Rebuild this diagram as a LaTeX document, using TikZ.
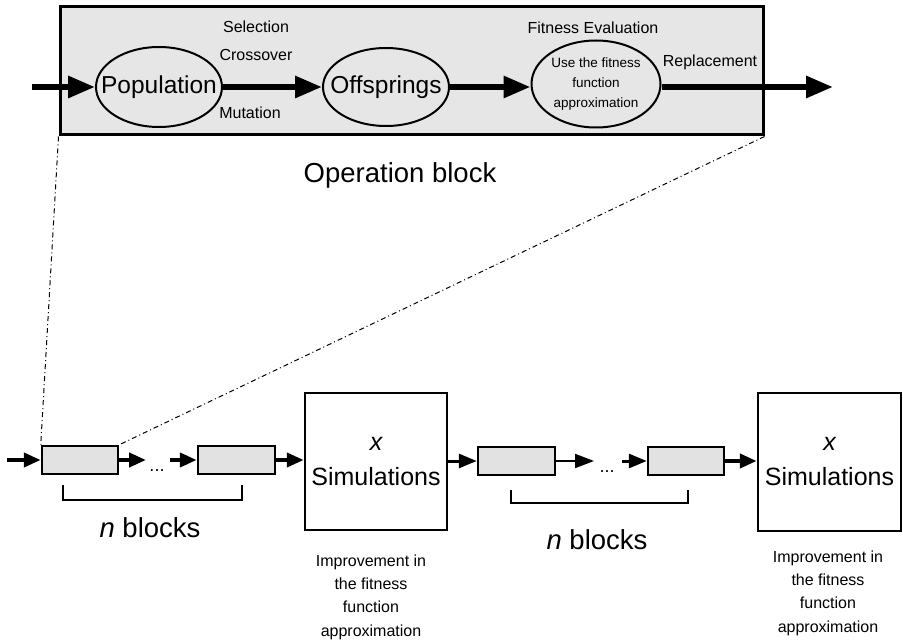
\documentclass[tikz,border=0pt]{standalone}
\usepackage{fontspec}
\setmainfont{Liberation Sans}
\usetikzlibrary{arrows.meta,shapes.geometric}
\definecolor{panelgray}{HTML}{E6E6E6}
\definecolor{blockgray}{HTML}{E2E2E2}
\newcommand{\fs}[2]{\fontsize{#1}{#2}\selectfont}

\begin{document}
\begin{tikzpicture}[x=1pt,y=-1pt,
  panel/.style={draw,line width=3pt,fill=panelgray,minimum width=703pt,minimum height=128pt,inner sep=0pt},
  stage/.style={draw,ellipse,line width=2pt,inner sep=0pt},
  stagetext/.style={label={[font=\fs{24.5}{29},inner sep=0pt]center:#1}},
  oplabel/.style={font=\fs{16}{19},inner sep=0pt},
  bigarrow/.style={line width=6pt,-{Triangle[length=27pt,width=21pt]}},
  opblock/.style={draw,line width=2.5pt,fill=blockgray,minimum width=76pt,minimum height=28pt,inner sep=0pt},
  simbox/.style={draw,line width=2.5pt,fill=white,inner sep=0pt,align=center,font=\fs{25}{35}},
  flow/.style={line width=4pt,-{Triangle[length=17pt,width=14pt]}},
  thinflow/.style={line width=2pt,-{Triangle[length=19pt,width=14pt]}},
  medflow/.style={line width=3pt,-{Triangle[length=18pt,width=14pt]}},
  zoomline/.style={line width=1pt,dash pattern=on 5pt off 3pt on 1pt off 3pt},
  bracket/.style={line width=2.5pt},
  note/.style={align=center,font=\fs{16}{23.3},inner sep=0pt},
  count/.style={font=\fs{27.5}{31},inner sep=0pt}]

\useasboundingbox (0,0) rectangle (903,644);

% ---- the operation block, enlarged ----
\node[panel] (panel) at (411.5,71) {};

\node[stage,minimum width=126pt,minimum height=80pt,stagetext=Population] (pop) at (159,87) {};
\node[stage,minimum width=126pt,minimum height=78pt,stagetext=Offsprings] (off) at (386,87) {};
\node[stage,minimum width=129pt,minimum height=87pt,align=center,font=\fs{13.5}{20}] (fit) at (596,84)
  {Use the fitness\\function\\approximation};

\coordinate (topin) at (32,87);
\coordinate (topout) at (833,87);
\draw[bigarrow] (topin) -- (pop.west);
\draw[bigarrow] (pop.east) -- (off.west);
\draw[bigarrow] (off.east) -- (off.east -| fit.west);
\draw[bigarrow] (fit.east |- topout) -- (topout);

\node[oplabel] (sel) at (256,27) {Selection};
\node[oplabel] (cro) at (256,55) {Crossover};
\node[oplabel] (mut) at (250,113) {Mutation};
\node[oplabel] (fev) at (593,28) {Fitness Evaluation};
\node[oplabel] (rep) at (710,62) {Replacement};

\node[font=\fs{27.5}{32},inner sep=0pt] (optitle) at (400,175) {Operation block};

% ---- chain of operation blocks and simulations ----
\node[opblock] (b1) at (80,460) {};
\node[opblock,minimum width=77pt] (b2) at (236.5,460) {};
\node[simbox,minimum width=142pt,minimum height=137pt] (sim1) at (376,461.5)
  {\itshape x\\Simulations};
\node[opblock,minimum width=77pt] (b3) at (516.5,461) {};
\node[opblock] (b4) at (686,461) {};
\node[simbox,minimum width=143pt,minimum height=138pt] (sim2) at (829.5,462)
  {\itshape x\\Simulations};

% zoom lines from the panel down to the first block
\draw[zoomline] (panel.south west) -- (b1.north west);
\draw[zoomline] (panel.south east) -- (b1.north east);

\coordinate (in) at (7,460);
\coordinate (c1) at (146,460);
\coordinate (c2) at (170,460);
\coordinate (c3) at (594,461);
\coordinate (c4) at (622,461);
\node[font=\fs{18}{22},inner sep=0pt] (dots1) at (157,471) {...};
\node[font=\fs{18}{22},inner sep=0pt] (dots2) at (607,472) {...};

\draw[flow] (in) -- (b1.west);
\draw[flow] (b1.east) -- (c1);
\draw[flow] (c2) -- (b2.west);
\draw[flow] (b2.east) -- (b2.east -| sim1.west);
\draw[medflow] (sim1.east |- b3.west) -- (b3.west);
\draw[thinflow] (b3.east) -- (c3);
\draw[medflow] (c4) -- (b4.west);
\draw[flow] (b4.east) -- (b4.east -| sim2.west);

% brackets under each run of n blocks
\draw[bracket] (63,485) -- (63,500) -- (242,500) -- (242,485);
\draw[bracket] (511,490) -- (511,503) -- (688,503) -- (688,490);

\node[count] (n1) at (150,528) {{\itshape n} blocks};
\node[count] (n2) at (597,540) {{\itshape n} blocks};

\node[note] (imp1) at (371,597) {Improvement in\\the fitness\\function\\approximation};
\node[note] (imp2) at (828,593) {Improvement in\\the fitness\\function\\approximation};
\end{tikzpicture}
\end{document}
